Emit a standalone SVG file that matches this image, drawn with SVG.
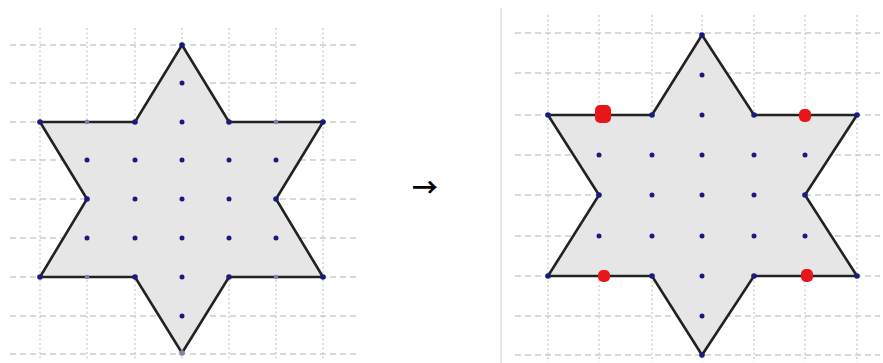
<svg xmlns="http://www.w3.org/2000/svg" width="883" height="363" viewBox="0 0 883 363">
<defs>
<style>
.h{stroke:#b4b4b4;stroke-width:1.2;stroke-dasharray:6 4;fill:none}
.v{stroke:#c8c8c8;stroke-width:1.2;stroke-dasharray:2 2.5;fill:none}
.star{fill:#e6e6e6;stroke:#222222;stroke-width:2.6;stroke-linejoin:miter}
.d{fill:#1a1a80}
.dl{fill:#8080b0}
.r{fill:#e8151b}
</style>
</defs>
<rect width="883" height="363" fill="#ffffff"/>
<g id="left-figure">
<g id="left-grid">
<path class="h" d="M10 45H358M10 83H358M10 122H358M10 160H358M10 199H358M10 238H358M10 277H358M10 316H358M10 354H358"/>
<path class="v" d="M40 28V360M87 28V360M135 28V360M182 28V360M229 28V360M276 28V360M323 28V360"/>
</g>
<polygon id="left-star" class="star" points="182,45 229,122 323,122 276,199 323,277 229,277 182,353 135,277 40,277 87,199 40,122 135,122"/>
<g id="left-dots">
<circle class="d" cx="182" cy="45" r="2.8"/>
<circle class="d" cx="182" cy="83" r="2.5"/>
<circle class="d" cx="40" cy="122" r="2.8"/>
<circle class="dl" cx="87" cy="122" r="2.3"/>
<circle class="d" cx="135" cy="122" r="2.8"/>
<circle class="d" cx="182" cy="122" r="2.5"/>
<circle class="d" cx="229" cy="122" r="2.8"/>
<circle class="dl" cx="276" cy="122" r="2.3"/>
<circle class="d" cx="323" cy="122" r="2.8"/>
<circle class="d" cx="87" cy="160" r="2.5"/>
<circle class="d" cx="135" cy="160" r="2.5"/>
<circle class="d" cx="182" cy="160" r="2.5"/>
<circle class="d" cx="229" cy="160" r="2.5"/>
<circle class="d" cx="276" cy="160" r="2.5"/>
<circle class="d" cx="87" cy="199" r="2.8"/>
<circle class="d" cx="135" cy="199" r="2.5"/>
<circle class="d" cx="182" cy="199" r="2.5"/>
<circle class="d" cx="229" cy="199" r="2.5"/>
<circle class="d" cx="276" cy="199" r="2.8"/>
<circle class="d" cx="87" cy="238" r="2.5"/>
<circle class="d" cx="135" cy="238" r="2.5"/>
<circle class="d" cx="182" cy="238" r="2.5"/>
<circle class="d" cx="229" cy="238" r="2.5"/>
<circle class="d" cx="276" cy="238" r="2.5"/>
<circle class="d" cx="40" cy="277" r="2.8"/>
<circle class="dl" cx="87" cy="277" r="2.3"/>
<circle class="d" cx="135" cy="277" r="2.8"/>
<circle class="d" cx="182" cy="277" r="2.5"/>
<circle class="d" cx="229" cy="277" r="2.8"/>
<circle class="dl" cx="276" cy="277" r="2.3"/>
<circle class="d" cx="323" cy="277" r="2.8"/>
<circle class="d" cx="182" cy="316" r="2.5"/>
<circle class="dl" cx="182" cy="353" r="2.8"/>
</g>
</g>
<g id="arrow">
<text x="425" y="197" font-family="Noto Sans CJK SC, sans-serif" font-size="26" font-weight="bold" text-anchor="middle" fill="#000000">→</text>
</g>
<line id="divider" x1="501" y1="8" x2="501" y2="363" stroke="#dcdcdc" stroke-width="1.5"/>
<g id="right-figure">
<g id="right-grid">
<path class="h" d="M515 33H880M515 73H880M515 115H880M515 155H880M515 195H880M515 236H880M515 276H880M515 316H880M515 355H880"/>
<path class="v" d="M548 15V362M599 15V362M652 15V362M702 15V362M754 15V362M805 15V362M857 15V362"/>
</g>
<polygon id="right-star" class="star" points="702,35 754,115 857,115 805,195 857,276 754,276 702,355 652,276 548,276 599,195 548,115 652,115"/>
<g id="right-dots">
<circle class="d" cx="702" cy="35" r="2.8"/>
<circle class="d" cx="702" cy="75" r="2.5"/>
<circle class="d" cx="548" cy="115" r="2.8"/>
<circle class="d" cx="652" cy="115" r="2.8"/>
<circle class="d" cx="702" cy="115" r="2.5"/>
<circle class="d" cx="754" cy="115" r="2.8"/>
<circle class="d" cx="857" cy="115" r="2.8"/>
<circle class="d" cx="599" cy="155" r="2.5"/>
<circle class="d" cx="652" cy="155" r="2.5"/>
<circle class="d" cx="702" cy="155" r="2.5"/>
<circle class="d" cx="754" cy="155" r="2.5"/>
<circle class="d" cx="805" cy="155" r="2.5"/>
<circle class="d" cx="599" cy="195" r="2.8"/>
<circle class="d" cx="652" cy="195" r="2.5"/>
<circle class="d" cx="702" cy="195" r="2.5"/>
<circle class="d" cx="754" cy="195" r="2.5"/>
<circle class="d" cx="805" cy="195" r="2.8"/>
<circle class="d" cx="599" cy="236" r="2.5"/>
<circle class="d" cx="652" cy="236" r="2.5"/>
<circle class="d" cx="702" cy="236" r="2.5"/>
<circle class="d" cx="754" cy="236" r="2.5"/>
<circle class="d" cx="805" cy="236" r="2.5"/>
<circle class="d" cx="548" cy="276" r="2.8"/>
<circle class="d" cx="652" cy="276" r="2.8"/>
<circle class="d" cx="702" cy="276" r="2.5"/>
<circle class="d" cx="754" cy="276" r="2.8"/>
<circle class="d" cx="857" cy="276" r="2.8"/>
<circle class="d" cx="702" cy="316" r="2.5"/>
<circle class="d" cx="702" cy="355" r="2.8"/>
</g>
<g id="red-marks">
<rect class="r" x="595" y="105" width="16" height="18" rx="5"/>
<rect class="r" x="799" y="109" width="12" height="13" rx="5"/>
<rect class="r" x="598" y="270" width="12" height="12" rx="5"/>
<rect class="r" x="801" y="269" width="12" height="13" rx="5"/>
</g>
</g>
</svg>
